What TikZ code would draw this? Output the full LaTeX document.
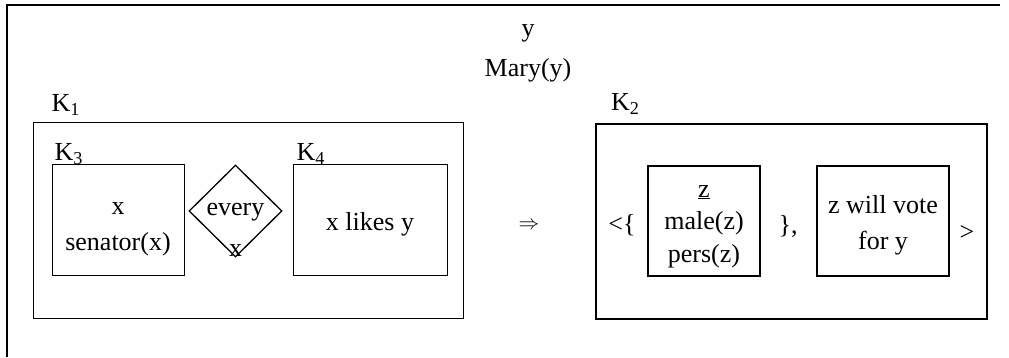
\documentclass[tikz,border=0pt]{standalone}
\usepackage{fontspec}
\setmainfont{Liberation Serif}
\usetikzlibrary{positioning,shapes.geometric}

\begin{document}
\begin{tikzpicture}[
  x=1pt, y=-1pt,
  font=\fontsize{26}{36}\selectfont,
  box/.style={draw, line width=1pt, inner sep=0pt},
  boldbox/.style={draw, line width=2pt, inner sep=0pt},
  txt/.style={align=center, inner sep=0pt},
  lbl/.style={anchor=base west, inner sep=0pt}
]
\useasboundingbox (0,0) rectangle (1009,358);

% outer frame, cut off at the right and at the bottom
\draw[line width=1.3pt] (1000,5) -- (7,5) -- (7,357);

% discourse referent of the whole structure
\node[txt, anchor=base] (yref) at (528,37) {y};
\node[txt, anchor=base] (mary) at (528,77) {Mary(y)};

% left part: K1 with the duplex condition
\node[box, minimum width=430pt, minimum height=195pt] (k1) at (248,220.5) {};
\node[lbl] (k1lbl) at ([xshift=19pt, yshift=11pt]k1.north west) {K\textsubscript{1}};

\node[box, minimum width=132pt, minimum height=110pt] (k3) at (118,220) {};
\node[lbl] (k3lbl) at ([xshift=3pt, yshift=3.5pt]k3.north west) {K\textsubscript{3}};
\node[txt] (k3txt) at ([yshift=-9.5pt]k3.center) {x\\senator(x)};

\node[diamond, draw, line width=1.3pt, inner sep=0pt,
  minimum width=93pt, minimum height=92pt] (every) at (235.5,211) {};
\node[txt] (everytxt) at ([yshift=-18.5pt]every.center) {every\\[5pt]x};

\node[box, minimum width=154pt, minimum height=110pt] (k4) at (370,220) {};
\node[lbl] (k4lbl) at ([xshift=4pt, yshift=3.5pt]k4.north west) {K\textsubscript{4}};
\node[txt] (k4txt) at ([yshift=-4pt]k4.center) {x likes y};

% implication
\node[txt, font=\fontsize{22}{22}\selectfont] (impl) at (529,226) {$\Rightarrow$};

% right part: K2
\node[boldbox, minimum width=391pt, minimum height=195pt] (k2) at (791.5,221.5) {};
\node[lbl] (k2lbl) at ([xshift=16pt, yshift=12pt]k2.north west) {K\textsubscript{2}};

\node[txt] (open) at (622,225) {<\{};
\node[boldbox, minimum width=112pt, minimum height=110pt] (zbox) at (704,221) {};
\node[txt] (ztxt) at ([yshift=-5.5pt]zbox.center) {\underline{z}\\[-3.5pt]male(z)\\[-3.5pt]pers(z)};
\node[txt] (comma) at (788,226) {\},};
\node[boldbox, minimum width=132pt, minimum height=110pt] (vote) at (883,221) {};
\node[txt] (votetxt) at ([yshift=-4pt]vote.center) {z will vote\\for y};
\node[txt] (close) at (967,233) {>};
\end{tikzpicture}
\end{document}
